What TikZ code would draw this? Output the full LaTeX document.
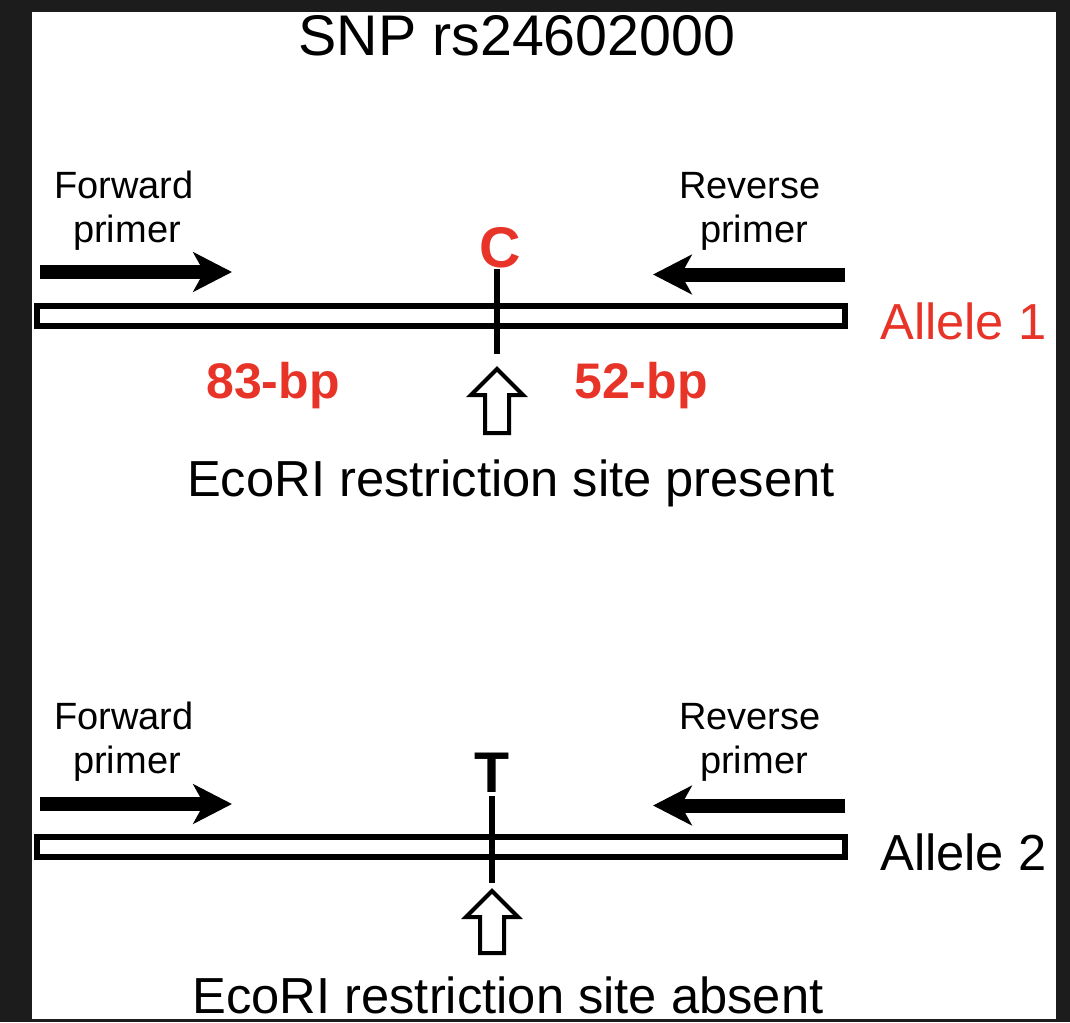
\documentclass[tikz,border=0pt]{standalone}
\usepackage{fontspec}
\setmainfont{Liberation Sans}
\usetikzlibrary{arrows.meta}
\definecolor{frame}{RGB}{28,28,28}
\definecolor{snpred}{RGB}{232,52,40}
\tikzset{
  px/.style={x=0.75pt,y=-0.75pt},
  primer/.style={line width=10.5pt,-{Stealth[length=29pt,width=29.5pt,inset=8pt]}},
  barbox/.style={draw=black,line width=4.5pt,fill=white},
  tick/.style={line width=3.8pt},
  hollow/.style={draw=black,line width=3pt,fill=white,line join=miter},
  lbl/.style={inner sep=0pt,anchor=base,font=\fontsize{28.5pt}{30pt}\selectfont},
  big/.style={inner sep=0pt,anchor=base,font=\fontsize{38pt}{40pt}\selectfont},
  redbold/.style={inner sep=0pt,anchor=base,text=snpred,font=\bfseries\fontsize{37.5pt}{40pt}\selectfont},
  base/.style={inner sep=0pt,anchor=base,font=\bfseries\fontsize{43pt}{45pt}\selectfont}
}
\begin{document}
\begin{tikzpicture}[px]
\fill[frame] (0,0) rectangle (1070,1022);
\fill[white] (32,12) rectangle (1056,1019);
\useasboundingbox (0,0) rectangle (1070,1022);

\node[inner sep=0pt,anchor=base,font=\fontsize{43pt}{45pt}\selectfont] (title) at (517,55) {SNP rs24602000};

% ---------- Allele 1 ----------
\node[lbl] (fw1a) at (124,198) {Forward};
\node[lbl] (fw1b) at (127,242) {primer};
\node[lbl] (rv1a) at (750,198) {Reverse};
\node[lbl] (rv1b) at (754,242) {primer};
\coordinate (f1s) at (40,272);
\coordinate (f1e) at (232,272);
\coordinate (r1s) at (845,274.5);
\coordinate (r1e) at (653,274.5);
\draw[primer] (f1s) -- (f1e);
\draw[primer] (r1s) -- (r1e);
\draw[barbox] (37,305.5) rectangle (845,325.5);
\coordinate (t1a) at (497,269);
\coordinate (t1b) at (497,354);
\draw[tick] (t1a) -- (t1b);
\node[base,text=snpred] (C) at (500,267) {C};
\node[redbold] (bp83) at (273,398) {83-bp};
\node[redbold] (bp52) at (641,398) {52-bp};
\draw[hollow] (497,369) -- (523,395) -- (509,395) -- (509,433) -- (485,433) -- (485,395) -- (471,395) -- cycle;
\node[big] (present) at (511,496) {EcoRI restriction site present};
\node[big,anchor=base west,text=snpred] (al1) at (880,339) {Allele 1};

% ---------- Allele 2 ----------
\node[lbl] (fw2a) at (124,729) {Forward};
\node[lbl] (fw2b) at (127,773) {primer};
\node[lbl] (rv2a) at (750,729) {Reverse};
\node[lbl] (rv2b) at (754,773) {primer};
\coordinate (f2s) at (40,804);
\coordinate (f2e) at (232,804);
\coordinate (r2s) at (845,805.5);
\coordinate (r2e) at (653,805.5);
\draw[primer] (f2s) -- (f2e);
\draw[primer] (r2s) -- (r2e);
\draw[barbox] (37,836.5) rectangle (845,856.5);
\coordinate (t2a) at (492,796);
\coordinate (t2b) at (492,883);
\draw[tick] (t2a) -- (t2b);
\node[base] (T) at (492,792) {T};
\draw[hollow] (492,891) -- (518,917) -- (504,917) -- (504,953) -- (480,953) -- (480,917) -- (466,917) -- cycle;
\node[big] (absent) at (508,1013) {EcoRI restriction site absent};
\node[big,anchor=base west] (al2) at (880,870) {Allele 2};
\end{tikzpicture}
\end{document}
